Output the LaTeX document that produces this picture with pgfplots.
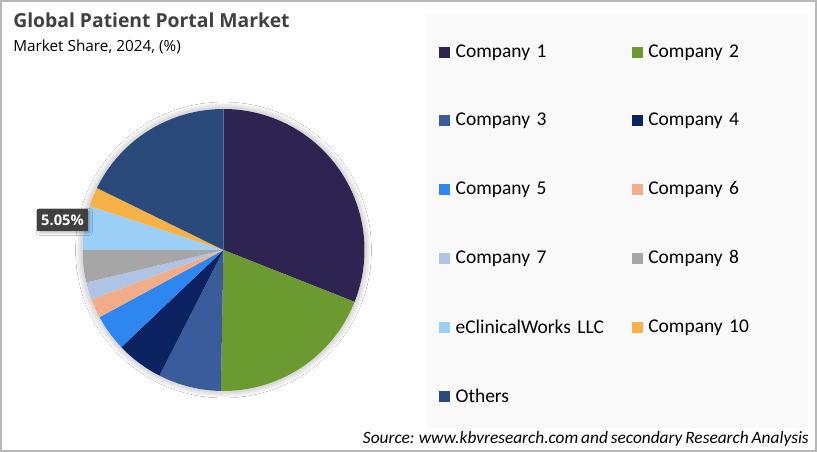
\documentclass[border=0pt]{standalone}
\usepackage{pgfplots}
\pgfplotsset{compat=1.18}
\usepackage{pgfplotstable}
\usetikzlibrary{shadows.blur}
\usepackage{fontspec}
\setmainfont{Carlito}[WordSpace=0.75]
\newfontfamily\titlefont{Open Sans}
\newdimen\pxu \pxu=0.75pt

\definecolor{pc0}{HTML}{2E2452}
\definecolor{pc1}{HTML}{6A9A30}
\definecolor{pc2}{HTML}{3B5C9A}
\definecolor{pc3}{HTML}{0B2461}
\definecolor{pc4}{HTML}{2E86F0}
\definecolor{pc5}{HTML}{F2AD88}
\definecolor{pc6}{HTML}{AFC4E4}
\definecolor{pc7}{HTML}{A6A6A6}
\definecolor{pc8}{HTML}{9CCFF8}
\definecolor{pc9}{HTML}{F7B146}
\definecolor{pc10}{HTML}{2A4A7C}

\pgfplotstableread[col sep=comma]{
name,share
Company 1,31.0
Company 2,19.3
Company 3,7.2
Company 4,5.4
Company 5,4.2
Company 6,2.2
Company 7,2.0
Company 8,3.7
eClinicalWorks LLC,5.05
Company 10,2.2
Others,17.75
}\piedata

\begin{document}
\begin{tikzpicture}
\gdef\cum{0}
\foreach \i in {0,...,10}{%
  \pgfplotstablegetelem{\i}{share}\of\piedata
  \pgfmathsetmacro\hi{90-3.6*\cum}%
  \pgfmathsetmacro\newcum{\cum+\pgfplotsretval}%
  \pgfmathsetmacro\lo{90-3.6*\newcum}%
  \expandafter\xdef\csname pieHi\i\endcsname{\hi}%
  \expandafter\xdef\csname pieLo\i\endcsname{\lo}%
  \xdef\cum{\newcum}%
}
\path[use as bounding box] (0,0) rectangle (817\pxu,452\pxu);
\fill[white] (0,0) rectangle (817\pxu,452\pxu);
\fill[black!2.5] (426\pxu,24\pxu) rectangle (808\pxu,437\pxu);
\draw[black!28, line width=1.6\pxu] (0.8\pxu,0.8\pxu) rectangle (816.2\pxu,451.2\pxu);

\node[anchor=base west, inner sep=0pt, font=\titlefont\bfseries\fontsize{14.5pt}{16pt}\selectfont, text=black!75] at (13\pxu,424.7\pxu) {Global Patient Portal Market};
\node[anchor=base west, inner sep=0pt, font=\titlefont\fontsize{11.5pt}{13pt}\selectfont, text=black] at (13\pxu,400.3\pxu) {Market Share, 2024, (\%)};
\node[anchor=base east, inner sep=0pt, font=\itshape\fontsize{13pt}{14pt}\selectfont, text=black] at (809\pxu,8.5\pxu) {Source: www.kbvresearch.com and secondary Research Analysis};

\begin{axis}[
  at={(223.5\pxu,202\pxu)}, anchor=center,
  width=282\pxu, height=282\pxu, scale only axis,
  xmin=-1, xmax=1, ymin=-1, ymax=1,
  hide axis, clip=false,
  legend columns=2,
  legend cell align=left,
  legend image code/.code={\fill[#1] (0\pxu,-5.5\pxu) rectangle (11\pxu,5.5\pxu);},
  legend style={
    at={(axis description cs:1.264,1.227)}, anchor=north west,
    draw=none, fill=none, inner sep=0pt, outer sep=0pt,
    row sep=53.7\pxu,
    font=\fontsize{14.6pt}{16pt}\selectfont,
    nodes={inner sep=0pt, outer sep=0pt},
    /tikz/every odd column/.append style={column sep=5.7\pxu},
    /tikz/every even column/.append style={text width=176\pxu},
  },
]
\path[fill=white, blur shadow={shadow blur steps=12, shadow xshift=0pt, shadow yshift=0pt, shadow scale=1.03, shadow opacity=15}] (axis cs:0,0) circle[radius=1];
\pgfplotsinvokeforeach{0,...,10}{
  \addplot[fill=pc#1, draw=none, domain=\csname pieLo#1\endcsname:\csname pieHi#1\endcsname, samples=90, variable=\t]
    ({cos(\t)},{sin(\t)}) -- (axis cs:0,0) -- cycle;
  \pgfplotstablegetelem{#1}{name}\of\piedata
  \addlegendentryexpanded{\pgfplotsretval}
}
\node[fill=black!75, text=white, font=\titlefont\bfseries\fontsize{11pt}{12pt}\selectfont, inner xsep=4\pxu, minimum height=21.5\pxu, blur shadow={shadow blur steps=5, shadow xshift=1.5pt, shadow yshift=-1.5pt, shadow opacity=30}] at (axis cs:-1.142,0.213) {5.05\%};
\end{axis}
\end{tikzpicture}
\end{document}
